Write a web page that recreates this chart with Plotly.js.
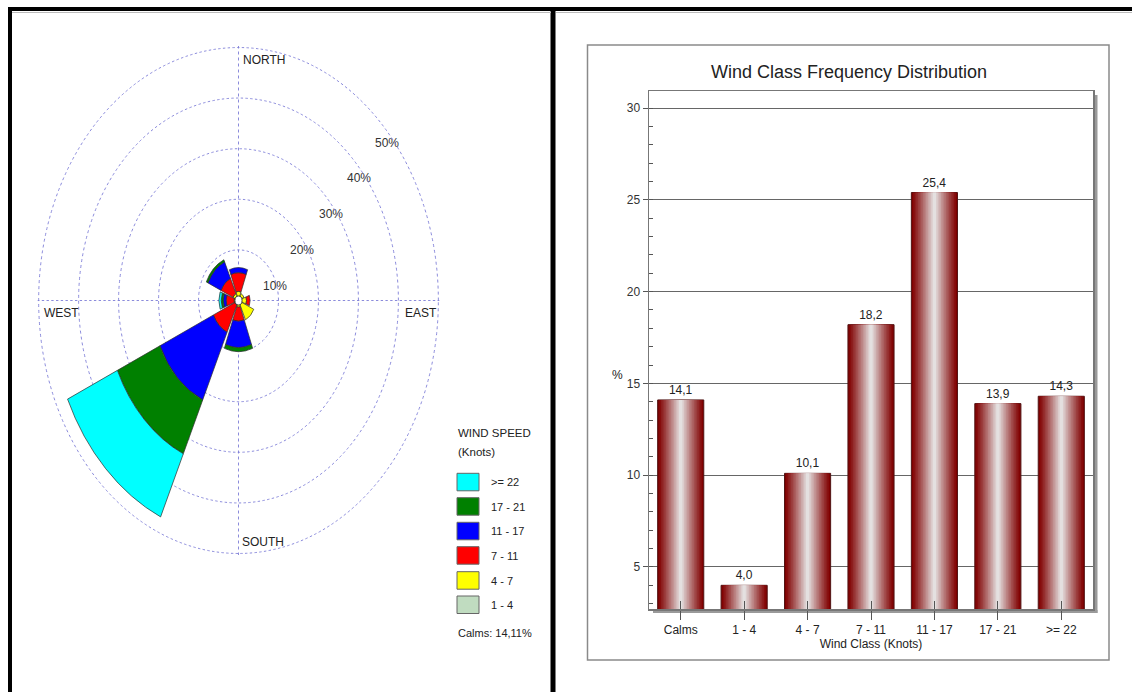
<!DOCTYPE html>
<html><head><meta charset="utf-8">
<script src="https://cdn.plot.ly/plotly-3.0.1.min.js"></script>
<style>
html,body{margin:0;padding:0;background:#fff;overflow:hidden;}
#main{position:absolute;left:0;top:0;width:1132px;height:692px;}
#rose{position:absolute;left:-16.2px;top:45.5px;width:509px;height:509px;transform:scaleX(0.79);transform-origin:50% 50%;pointer-events:none;}
</style></head><body>
<div id="main"></div><div id="rose"></div>
<script>
// ---------- Bar chart data ----------
const windClasses = ['Calms','1 - 4','4 - 7','7 - 11','11 - 17','17 - 21','>= 22'];
const classFrequency = [14.1, 4.0, 10.1, 18.2, 25.4, 13.9, 14.3];
const yTicks = [5, 10, 15, 20, 25, 30];

// ---------- Wind rose data (percent per direction, per speed class) ----------
const directions = [0, 45, 90, 135, 180, 225, 270, 315]; // N, NE, E, SE, S, SW, W, NW
const speedClasses = ['1 - 4', '4 - 7', '7 - 11', '11 - 17', '17 - 21', '>= 22'];
const speed1to4   = [0.4, 0.5, 0.5, 0.6, 0.5, 0.4, 0.5, 0.4];
const speed4to7   = [1.4, 1.0, 1.5, 3.6, 0.8, 0.6, 0.6, 1.1];
const speed7to11  = [3.7, 0, 0.9, 0, 2.8, 5.9, 2.0, 3.3];
const speed11to17 = [1.0, 0, 0, 0, 5.2, 14.7, 0.7, 3.6];
const speed17to21 = [0, 0, 0, 0, 0.8, 11.7, 0.5, 0.45];
const speed22plus = [0, 0, 0, 0, 0, 13.7, 0.6, 0];
const ringTicks = [10, 20, 30, 40, 50];
const compassLabels = ['NORTH', 'EAST', 'SOUTH', 'WEST'];
const calmsText = 'Calms: 14,11%';

const speedColors = ['#C0DCC0', '#FFFF00', '#FF0000', '#0000FF', '#008000', '#00FFFF'];
const FONT = 'Liberation Sans, Arial, sans-serif';

// ---------- Wind rose (polar, stretched to the ellipse of the original) ----------
const speedSeries = [speed1to4, speed4to7, speed7to11, speed11to17, speed17to21, speed22plus];
const roseTraces = speedSeries.map((vals, i) => ({
  type: 'barpolar',
  r: vals.map(v => v > 0 ? v : null),
  theta: directions,
  width: 41,
  name: speedClasses[i],
  marker: {color: speedColors[i], line: {color: '#303030', width: 0.8}},
  hoverinfo: 'skip'
}));
roseTraces.push({type: 'scatterpolar', r: [0], theta: [0], mode: 'markers',
  marker: {size: 9, color: '#ffffff', line: {color: '#222', width: 1}}, hoverinfo: 'skip'});

const gridCol = 'rgb(125,125,215)';
Plotly.newPlot('rose', roseTraces, {
  width: 509, height: 509, margin: {l: 0, r: 0, t: 0, b: 0, pad: 0},
  paper_bgcolor: 'rgba(0,0,0,0)', showlegend: false,
  polar: {
    domain: {x: [0, 1], y: [0, 1]}, bgcolor: 'rgba(0,0,0,0)', barmode: 'stack',
    radialaxis: {range: [0, 50.3], tickvals: ringTicks, showticklabels: false, ticks: '',
      showline: false, gridcolor: gridCol, griddash: 'dot', gridwidth: 1},
    angularaxis: {rotation: 90, direction: 'clockwise', tickvals: [0, 90, 180, 270],
      showticklabels: false, ticks: '', showline: false, gridcolor: gridCol, griddash: 'dot', gridwidth: 1}
  }
}, {displayModeBar: false, staticPlot: true});

// ---------- Main figure: bar chart + all texts ----------
const W = 1132, H = 692;
const px = x => x / W, py = y => 1 - y / H;

const layers = 14, fullW = 0.727;
const edgeC = [128, 0, 0], midC = [228, 224, 224];
const barTraces = [];
for (let k = 0; k < layers; k++) {
  const t = Math.pow(k / (layers - 1), 1.1);
  const c = edgeC.map((e, j) => Math.round(e + (midC[j] - e) * t));
  const tr = {
    type: 'bar', x: windClasses, y: classFrequency,
    width: fullW * (1 - k / layers),
    marker: {color: `rgb(${c[0]},${c[1]},${c[2]})`, line: {width: k === 0 ? 1 : 0, color: 'rgb(80,20,20)'}},
    hoverinfo: 'skip', cliponaxis: false
  };
  if (k === 0) {
    tr.texttemplate = '%{y:.1f}';
    tr.textposition = 'outside';
    tr.textfont = {size: 12, color: '#222', family: FONT};
  } else {
    tr.textposition = 'none';
  }
  barTraces.push(tr);
}
barTraces.push({type: 'scatter', x: windClasses, y: classFrequency, xaxis: 'x2', yaxis: 'y',
  mode: 'markers', marker: {opacity: 0}, hoverinfo: 'skip'});

const shapes = [];
const line = (x0, y0, x1, y1, color, width) => shapes.push({type: 'line', xref: 'paper', yref: 'paper',
  x0: px(x0), y0: py(y0), x1: px(x1), y1: py(y1), line: {color, width}});
const rect = (x0, y0, x1, y1, fill, lc, lw, layer) => shapes.push({type: 'rect', xref: 'paper', yref: 'paper',
  x0: px(x0), y0: py(y0), x1: px(x1), y1: py(y1), fillcolor: fill, line: {color: lc, width: lw}, layer: layer || 'above'});

// panel borders
line(8, 9, 1132, 9, '#000', 4);
line(10, 7, 10, 692, '#000', 4);
line(553, 7, 553, 692, '#000', 5);
line(12, 12.5, 551, 12.5, '#bbb', 1);
line(556, 12.5, 1132, 12.5, '#bbb', 1);
// right chart frame
rect(587.5, 45, 1109, 660, 'rgba(0,0,0,0)', '#8a8a8a', 1.5);
// plot shadow
rect(1094, 95, 1097.5, 613, '#9a9a9a', 'rgba(0,0,0,0)', 0, 'below');
rect(653, 610, 1097.5, 613, '#9a9a9a', 'rgba(0,0,0,0)', 0, 'below');

const annotations = [];
const ann = (text, x, y, size, xanchor, extra) => annotations.push(Object.assign({
  text, xref: 'paper', yref: 'paper', x: px(x), y: py(y), xanchor: xanchor || 'left', yanchor: 'middle',
  showarrow: false, font: {size: size, color: '#222', family: FONT}
}, extra || {}));

// compass labels
ann(compassLabels[0], 241, 60, 12);
ann(compassLabels[1], 403, 313, 12);
ann(compassLabels[2], 240, 542, 12);
ann(compassLabels[3], 42, 313, 12);
// ring labels
const ringPos = [[275, 286], [302, 250], [331, 214], [359, 178], [387, 143]];
ringTicks.forEach((v, i) => ann(v + '%', ringPos[i][0], ringPos[i][1], 12, 'center', {font: {size: 12, color: '#333', family: FONT}}));

// rose legend
ann('WIND SPEED', 456, 433, 11.5);
ann('(Knots)', 456, 452, 11.5);
const legTops = [473.3, 497.7, 522.3, 546.7, 571.7, 596];
for (let i = 0; i < 6; i++) {
  const idx = 5 - i;
  rect(457, legTops[i], 479, legTops[i] + 17.5, speedColors[idx], '#666', 1);
  ann(speedClasses[idx], 489, legTops[i] + 9, 11);
}
ann(calmsText, 456, 633, 11);

// y axis title
ann('%', 617, 375, 12, 'center');

Plotly.newPlot('main', barTraces, {
  width: W, height: H, margin: {l: 0, r: 0, t: 0, b: 0, pad: 0},
  paper_bgcolor: '#fff', plot_bgcolor: '#fff', showlegend: false,
  barmode: 'overlay', separators: ',.',
  font: {family: FONT, color: '#222'},
  title: {text: 'Wind Class Frequency Distribution', x: px(849), y: py(72), xref: 'paper', yref: 'paper',
    xanchor: 'center', yanchor: 'middle', font: {size: 18, color: '#222', family: FONT}},
  xaxis: {domain: [px(649), px(1093)], type: 'category', range: [-0.5, 6.5],
    ticks: 'outside', ticklen: 9, tickcolor: '#555', tickwidth: 1,
    showline: true, linecolor: '#777', linewidth: 1.5, mirror: true, showgrid: false, zeroline: false,
    tickfont: {size: 12, color: '#222', family: FONT},
    title: {text: 'Wind Class (Knots)', font: {size: 12, color: '#222', family: FONT}, standoff: 3}},
  xaxis2: {overlaying: 'x', anchor: 'y', type: 'category', range: [-0.5, 6.5], side: 'bottom',
    ticks: 'inside', ticklen: 8, tickcolor: '#555', tickwidth: 1,
    showticklabels: false, showline: false, showgrid: false, zeroline: false},
  yaxis: {domain: [py(609), py(91)], range: [2.71, 30.93], tickvals: yTicks,
    ticks: 'outside', ticklen: 5, tickcolor: '#555', tickwidth: 1,
    showline: true, linecolor: '#777', linewidth: 1.5, mirror: true,
    gridcolor: '#666', gridwidth: 1, zeroline: false,
    tickfont: {size: 12, color: '#333', family: FONT},
    minor: {dtick: 1, ticks: 'inside', ticklen: 4, tickcolor: '#555', showgrid: false}},
  shapes, annotations
}, {displayModeBar: false, staticPlot: true});
</script>
</body></html>
